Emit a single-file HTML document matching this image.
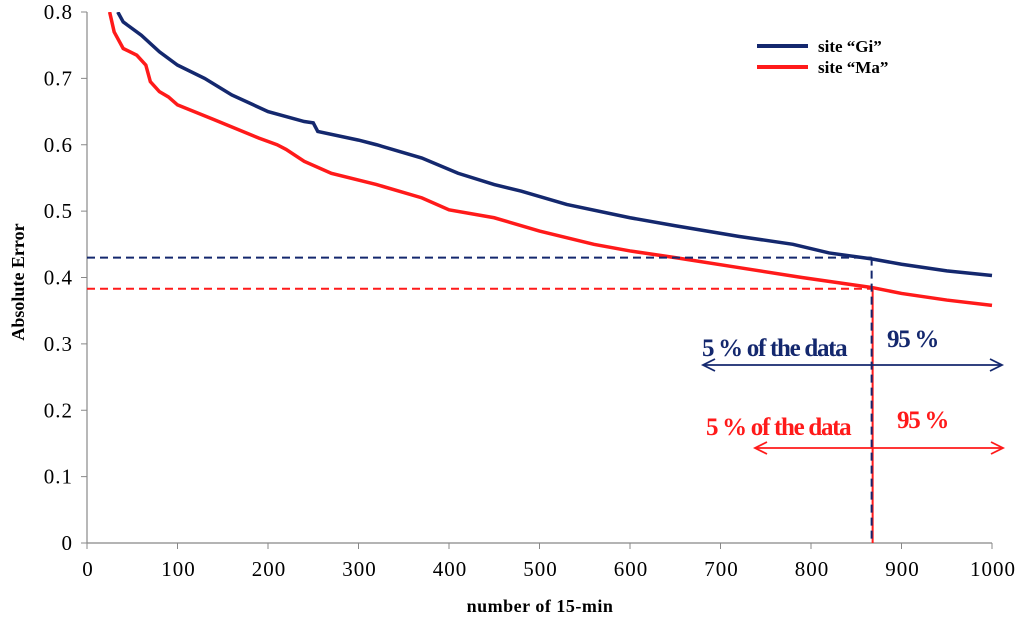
<!DOCTYPE html>
<html><head><meta charset="utf-8"><style>
body{margin:0;background:#fff}
svg{display:block;font-family:"Liberation Serif",serif}
</style></head><body>
<svg id="c" width="1024" height="619"></svg>
<script>
const xsBlue=[34,40,60,80,100,130,160,200,240,250,255,300,320,370,410,450,480,530,600,650,720,780,820,867,900,950,1000];
const ysBlue=[0.8,0.785,0.765,0.74,0.72,0.7,0.675,0.65,0.635,0.633,0.62,0.607,0.6,0.58,0.557,0.54,0.53,0.51,0.49,0.478,0.462,0.45,0.437,0.428,0.42,0.41,0.403];
const xsRed=[25,30,40,55,65,70,80,90,100,140,190,210,220,240,270,320,370,400,450,500,560,600,650,720,790,867,900,950,1000];
const ysRed=[0.8,0.77,0.745,0.735,0.72,0.695,0.68,0.672,0.66,0.638,0.61,0.6,0.593,0.575,0.557,0.54,0.52,0.502,0.49,0.47,0.45,0.44,0.43,0.415,0.4,0.385,0.376,0.366,0.358];
const xTicks=[0,100,200,300,400,500,600,700,800,900,1000];
const yTicks=[0,0.1,0.2,0.3,0.4,0.5,0.6,0.7,0.8];
const cutX=867, cutBlue=0.43, cutRed=0.383;
const X=v=>87+v*0.905, Y=v=>543-v*663.75;
const NS="http://www.w3.org/2000/svg", svg=document.getElementById('c');
function mk(t,a,p){const e=document.createElementNS(NS,t);for(const k in a)e.setAttribute(k,a[k]);(p||svg).appendChild(e);return e;}
const B='#14286e', R='#ff1a1a';
let e=mk('line',{x1:87,y1:12,x2:87,y2:543,stroke:'#888','stroke-width':1.2});

e=mk('line',{x1:87,y1:543,x2:992,y2:543,stroke:'#888','stroke-width':1.2});

yTicks.forEach(v=>{mk('line',{x1:81,y1:Y(v),x2:87,y2:Y(v),stroke:'#888'});
 e=mk('text',{x:73,y:Y(v)+7,'text-anchor':'end','font-size':21,'letter-spacing':1});e.textContent=v===0?'0':v.toFixed(1);
 });
xTicks.forEach(v=>{mk('line',{x1:X(v),y1:543,x2:X(v),y2:549,stroke:'#888'});
 e=mk('text',{x:X(v)+1,y:576,'text-anchor':'middle','font-size':21,'letter-spacing':1});e.textContent=v;
 });
e=mk('text',{x:540,y:612,'text-anchor':'middle','font-size':18,'font-weight':'bold','letter-spacing':0.5});e.textContent='number of 15-min';

e=mk('text',{x:0,y:0,'text-anchor':'middle','font-size':18,'font-weight':'bold',transform:'translate(24,282) rotate(-90)'});e.textContent='Absolute Error';

mk('clipPath',{id:'cp'});mk('rect',{x:87,y:12,width:920,height:532},svg.lastChild);
function line(xs,ys,col,name){let d=xs.map((x,i)=>(i?'L':'M')+X(x)+','+Y(ys[i])).join('');
 const p=mk('path',{d,fill:'none',stroke:col,'stroke-width':3.5,'clip-path':'url(#cp)'});
 }
line(xsBlue,ysBlue,B,'series-gi');line(xsRed,ysRed,R,'series-ma');
e=mk('line',{x1:87,y1:Y(cutBlue),x2:X(cutX),y2:Y(cutBlue),stroke:B,'stroke-width':2,'stroke-dasharray':'8,5'});

e=mk('line',{x1:87,y1:Y(cutRed),x2:X(cutX),y2:Y(cutRed),stroke:R,'stroke-width':2,'stroke-dasharray':'8,5'});

e=mk('line',{x1:X(cutX)+1,y1:Y(cutRed),x2:X(cutX)+1,y2:543,stroke:R,'stroke-width':2});

e=mk('line',{x1:X(cutX),y1:Y(cutBlue),x2:X(cutX),y2:543,stroke:B,'stroke-width':2,'stroke-dasharray':'8,5'});

function arrow(x1,x2,y,col,name){const g=mk('g',{stroke:col,'stroke-width':1.8,fill:'none'});
 mk('line',{x1,y1:y,x2,y2:y},g);mk('path',{d:`M${x1+12},${y-6}L${x1},${y}L${x1+12},${y+6}M${x2-12},${y-6}L${x2},${y}L${x2-12},${y+6}`},g);
 }
arrow(703,1002,365,B,'gi-arrow');arrow(755,1003,448,R,'ma-arrow');
function txt(x,y,s,col,name){const t=mk('text',{x,y,'font-size':25,'font-weight':'bold',fill:col,'letter-spacing':'-1.3'});t.textContent=s;
 }
txt(702,356,'5 % of the data',B,'gi-5pct-label');txt(887,347,'95 %',B,'gi-95pct-label');
txt(706,435,'5 % of the data',R,'ma-5pct-label');txt(897,428,'95 %',R,'ma-95pct-label');
[[B,'site \u201cGi\u201d',46],[R,'site \u201cMa\u201d',67]].forEach(([c,s,y],i)=>{
 const g=mk('g',{});mk('line',{x1:757,y1:y,x2:808,y2:y,stroke:c,'stroke-width':4},g);
 const t=mk('text',{x:818,y:y+6,'font-size':17,'font-weight':'bold'},g);t.textContent=s;
 });
</script>
</body></html>
